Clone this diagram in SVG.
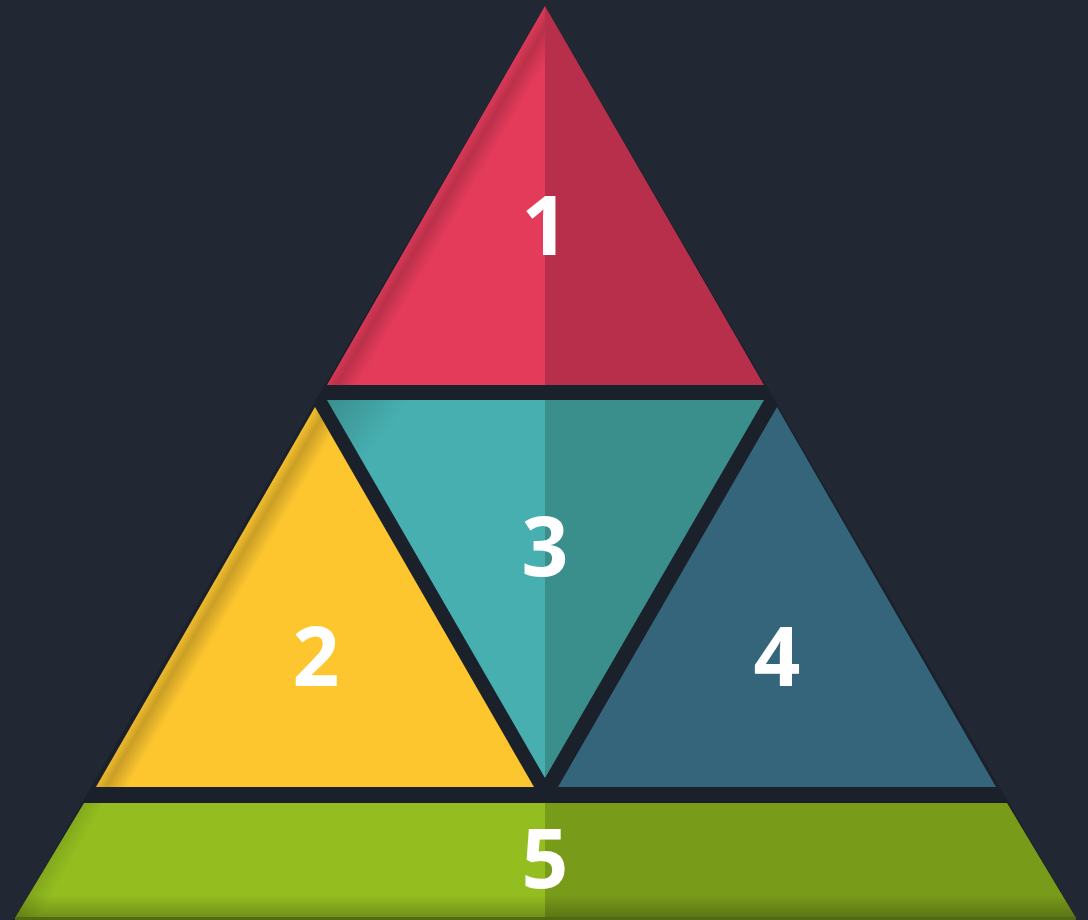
<svg xmlns="http://www.w3.org/2000/svg" width="1088" height="920" viewBox="0 0 1088 920">
  <defs>
    <style>
      .lbl { font-family: "Open Sans", "Liberation Sans", sans-serif; font-weight: 700; font-size: 82px; fill: #ffffff; text-anchor: middle; }
    </style>
    <linearGradient id="shRed" gradientUnits="userSpaceOnUse" x1="436" y1="195.5" x2="460" y2="209.5">
      <stop offset="0" stop-color="#000" stop-opacity="0.05"/>
      <stop offset="0.35" stop-color="#000" stop-opacity="0.18"/>
      <stop offset="1" stop-color="#000" stop-opacity="0"/>
    </linearGradient>
    <linearGradient id="shYel" gradientUnits="userSpaceOnUse" x1="205.5" y1="597" x2="229.5" y2="611">
      <stop offset="0" stop-color="#000" stop-opacity="0.05"/>
      <stop offset="0.35" stop-color="#000" stop-opacity="0.2"/>
      <stop offset="1" stop-color="#000" stop-opacity="0"/>
    </linearGradient>
    <linearGradient id="shGrnL" gradientUnits="userSpaceOnUse" x1="49.5" y1="860.5" x2="67" y2="870.5">
      <stop offset="0" stop-color="#000" stop-opacity="0.12"/>
      <stop offset="1" stop-color="#000" stop-opacity="0"/>
    </linearGradient>
    <linearGradient id="shGrnB" gradientUnits="userSpaceOnUse" x1="0" y1="895" x2="0" y2="918">
      <stop offset="0" stop-color="#000" stop-opacity="0"/>
      <stop offset="1" stop-color="#000" stop-opacity="0.25"/>
    </linearGradient>
    <linearGradient id="shTeal" gradientUnits="userSpaceOnUse" x1="330" y1="402" x2="380" y2="440">
      <stop offset="0" stop-color="#000" stop-opacity="0.18"/>
      <stop offset="1" stop-color="#000" stop-opacity="0"/>
    </linearGradient>
  </defs>

  <rect x="0" y="0" width="1088" height="920" fill="#212834"/>

  <g id="backdrop">
    <polygon points="545,6 1076,918 15,918" fill="#1b212b"/>
  </g>

  <g id="node-1">
    <polygon points="545,6 545,385 327,385" fill="#e43b5a"/>
    <polygon points="545,6 764,385 545,385" fill="#b72f4a"/>
    <polygon points="545,6 545,385 327,385" fill="url(#shRed)"/>
    <text class="lbl" x="545" y="255">1</text>
  </g>

  <g id="node-3">
    <polygon points="327,400 545,400 545,778" fill="#47afb0"/>
    <polygon points="545,400 764,400 545,778" fill="#3a8f8c"/>
    <polygon points="327,400 545,400 545,778" fill="url(#shTeal)"/>
    <text class="lbl" x="545" y="576">3</text>
  </g>

  <g id="node-2">
    <polygon points="315,407 534,787 96,787" fill="#fdc62f"/>
    <polygon points="315,407 534,787 96,787" fill="url(#shYel)"/>
    <text class="lbl" x="316" y="686">2</text>
  </g>

  <g id="node-4">
    <polygon points="777,407 996,787 558,787" fill="#34657b"/>
    <text class="lbl" x="777" y="686">4</text>
  </g>

  <g id="node-5">
    <polygon points="84,803 545,803 545,918 15,918" fill="#94be20"/>
    <polygon points="545,803 1007,803 1076,918 545,918" fill="#799b1a"/>
    <polygon points="84,803 1007,803 1076,918 15,918" fill="url(#shGrnL)"/>
    <polygon points="84,803 1007,803 1076,918 15,918" fill="url(#shGrnB)"/>
    <rect x="15" y="917" width="1061" height="3" fill="#4f6a12"/>
    <text class="lbl" x="545" y="888">5</text>
  </g>

  <g id="connectors"></g>
</svg>
